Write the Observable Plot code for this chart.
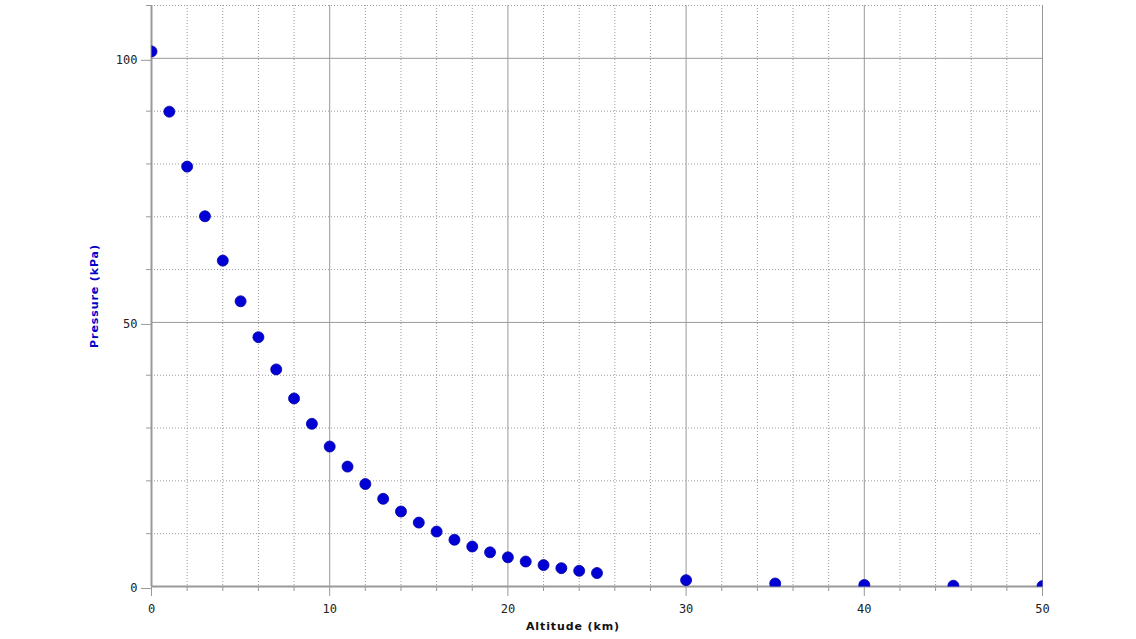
<!DOCTYPE html>
<html>
<head>
<meta charset="utf-8">
<script src="https://cdn.jsdelivr.net/npm/d3@7"></script>
<script src="https://cdn.jsdelivr.net/npm/@observablehq/plot@0.6"></script>
<style>
  html, body { margin: 0; padding: 0; background: #fff; }
  #chart svg { display: block; }
</style>
</head>
<body>
<div id="chart"></div>
<script>
const altitudes = [0,1,2,3,4,5,6,7,8,9,10,11,12,13,14,15,16,17,18,19,20,21,22,23,24,25,30,35,40,45,50];
const pressures = [101.3,89.9,79.5,70.1,61.7,54.0,47.2,41.1,35.6,30.8,26.5,22.7,19.4,16.6,14.2,12.1,10.4,8.85,7.57,6.47,5.53,4.73,4.05,3.47,2.97,2.55,1.20,0.57,0.29,0.15,0.08];
const xMajor = [0,10,20,30,40,50];
const xMinor = [2,4,6,8,12,14,16,18,22,24,26,28,32,34,36,38,42,44,46,48];
const yMajor = [0,50,100];
const yMinor = [10,20,30,40,60,70,80,90,110];
const xTitle = "Altitude (km)";
const yTitle = "Pressure (kPa)";

const data = altitudes.map((a, i) => ({altitude: a, pressure: pressures[i]}));
const gridColor = "#999";
const monoFont = "DejaVu Sans Mono, monospace";

const chart = Plot.plot({
  width: 1136,
  height: 639,
  marginLeft: 151,
  marginRight: 94,
  marginTop: 5,
  marginBottom: 53,
  style: {background: "#fff", fontFamily: monoFont, fontSize: "12px"},
  x: {domain: [0, 50], axis: null},
  y: {domain: [0, 110], axis: null},
  marks: [
    Plot.gridX(xMinor, {stroke: gridColor, strokeOpacity: 1, strokeDasharray: "1,2"}),
    Plot.gridY(yMinor, {stroke: gridColor, strokeOpacity: 1, strokeDasharray: "1,2"}),
    Plot.gridX(xMajor, {stroke: gridColor, strokeOpacity: 1}),
    Plot.gridY(yMajor, {stroke: gridColor, strokeOpacity: 1}),
    Plot.axisX(xMinor, {tickSize: 5, tickFormat: () => "", label: null, stroke: gridColor}),
    Plot.axisX(xMajor, {tickSize: 10, tickPadding: 8, tickFormat: d => String(d), stroke: gridColor, fill: "#222", fontFamily: monoFont, fontSize: 12, label: null}),
    Plot.axisY(yMinor, {tickSize: 5, tickFormat: () => "", label: null, stroke: gridColor}),
    Plot.axisY(yMajor, {tickSize: 10, tickPadding: 4, dy: 2, tickFormat: d => String(d), stroke: gridColor, fill: "#222", fontFamily: monoFont, fontSize: 12, label: null}),
    Plot.ruleX([0], {stroke: gridColor, strokeWidth: 2}),
    Plot.ruleY([0], {stroke: gridColor, strokeWidth: 2}),
    Plot.dot(data, {x: "altitude", y: "pressure", r: 5.5, fill: "#0000d4", stroke: "#0000a8", strokeWidth: 0.8}),
    Plot.text([xTitle], {frameAnchor: "bottom", dy: 43, dx: -24, textAnchor: "middle", fontFamily: "DejaVu Sans, sans-serif", fontWeight: "bold", fontSize: 11, fill: "#111"}),
    Plot.text([yTitle], {frameAnchor: "left", dx: -57, textAnchor: "middle", rotate: -90, fontFamily: "DejaVu Sans, sans-serif", fontWeight: "bold", fontSize: 11, fill: "#0000cc"})
  ]
});

const svg = d3.select(chart);
// clip the dots to the plotting frame
svg.insert("defs", ":first-child").append("clipPath").attr("id", "frame-clip")
  .append("rect").attr("x", 151).attr("y", 5).attr("width", 1136 - 151 - 94).attr("height", 639 - 5 - 53);
svg.selectAll("circle").each(function () {
  d3.select(this.parentNode).attr("clip-path", "url(#frame-clip)");
});
// wider tracking for the axis titles
svg.selectAll("text").filter(function () {
  const t = this.textContent;
  return t === xTitle || t === yTitle;
}).attr("letter-spacing", "0.9px");

document.getElementById("chart").appendChild(chart);
</script>
</body>
</html>
